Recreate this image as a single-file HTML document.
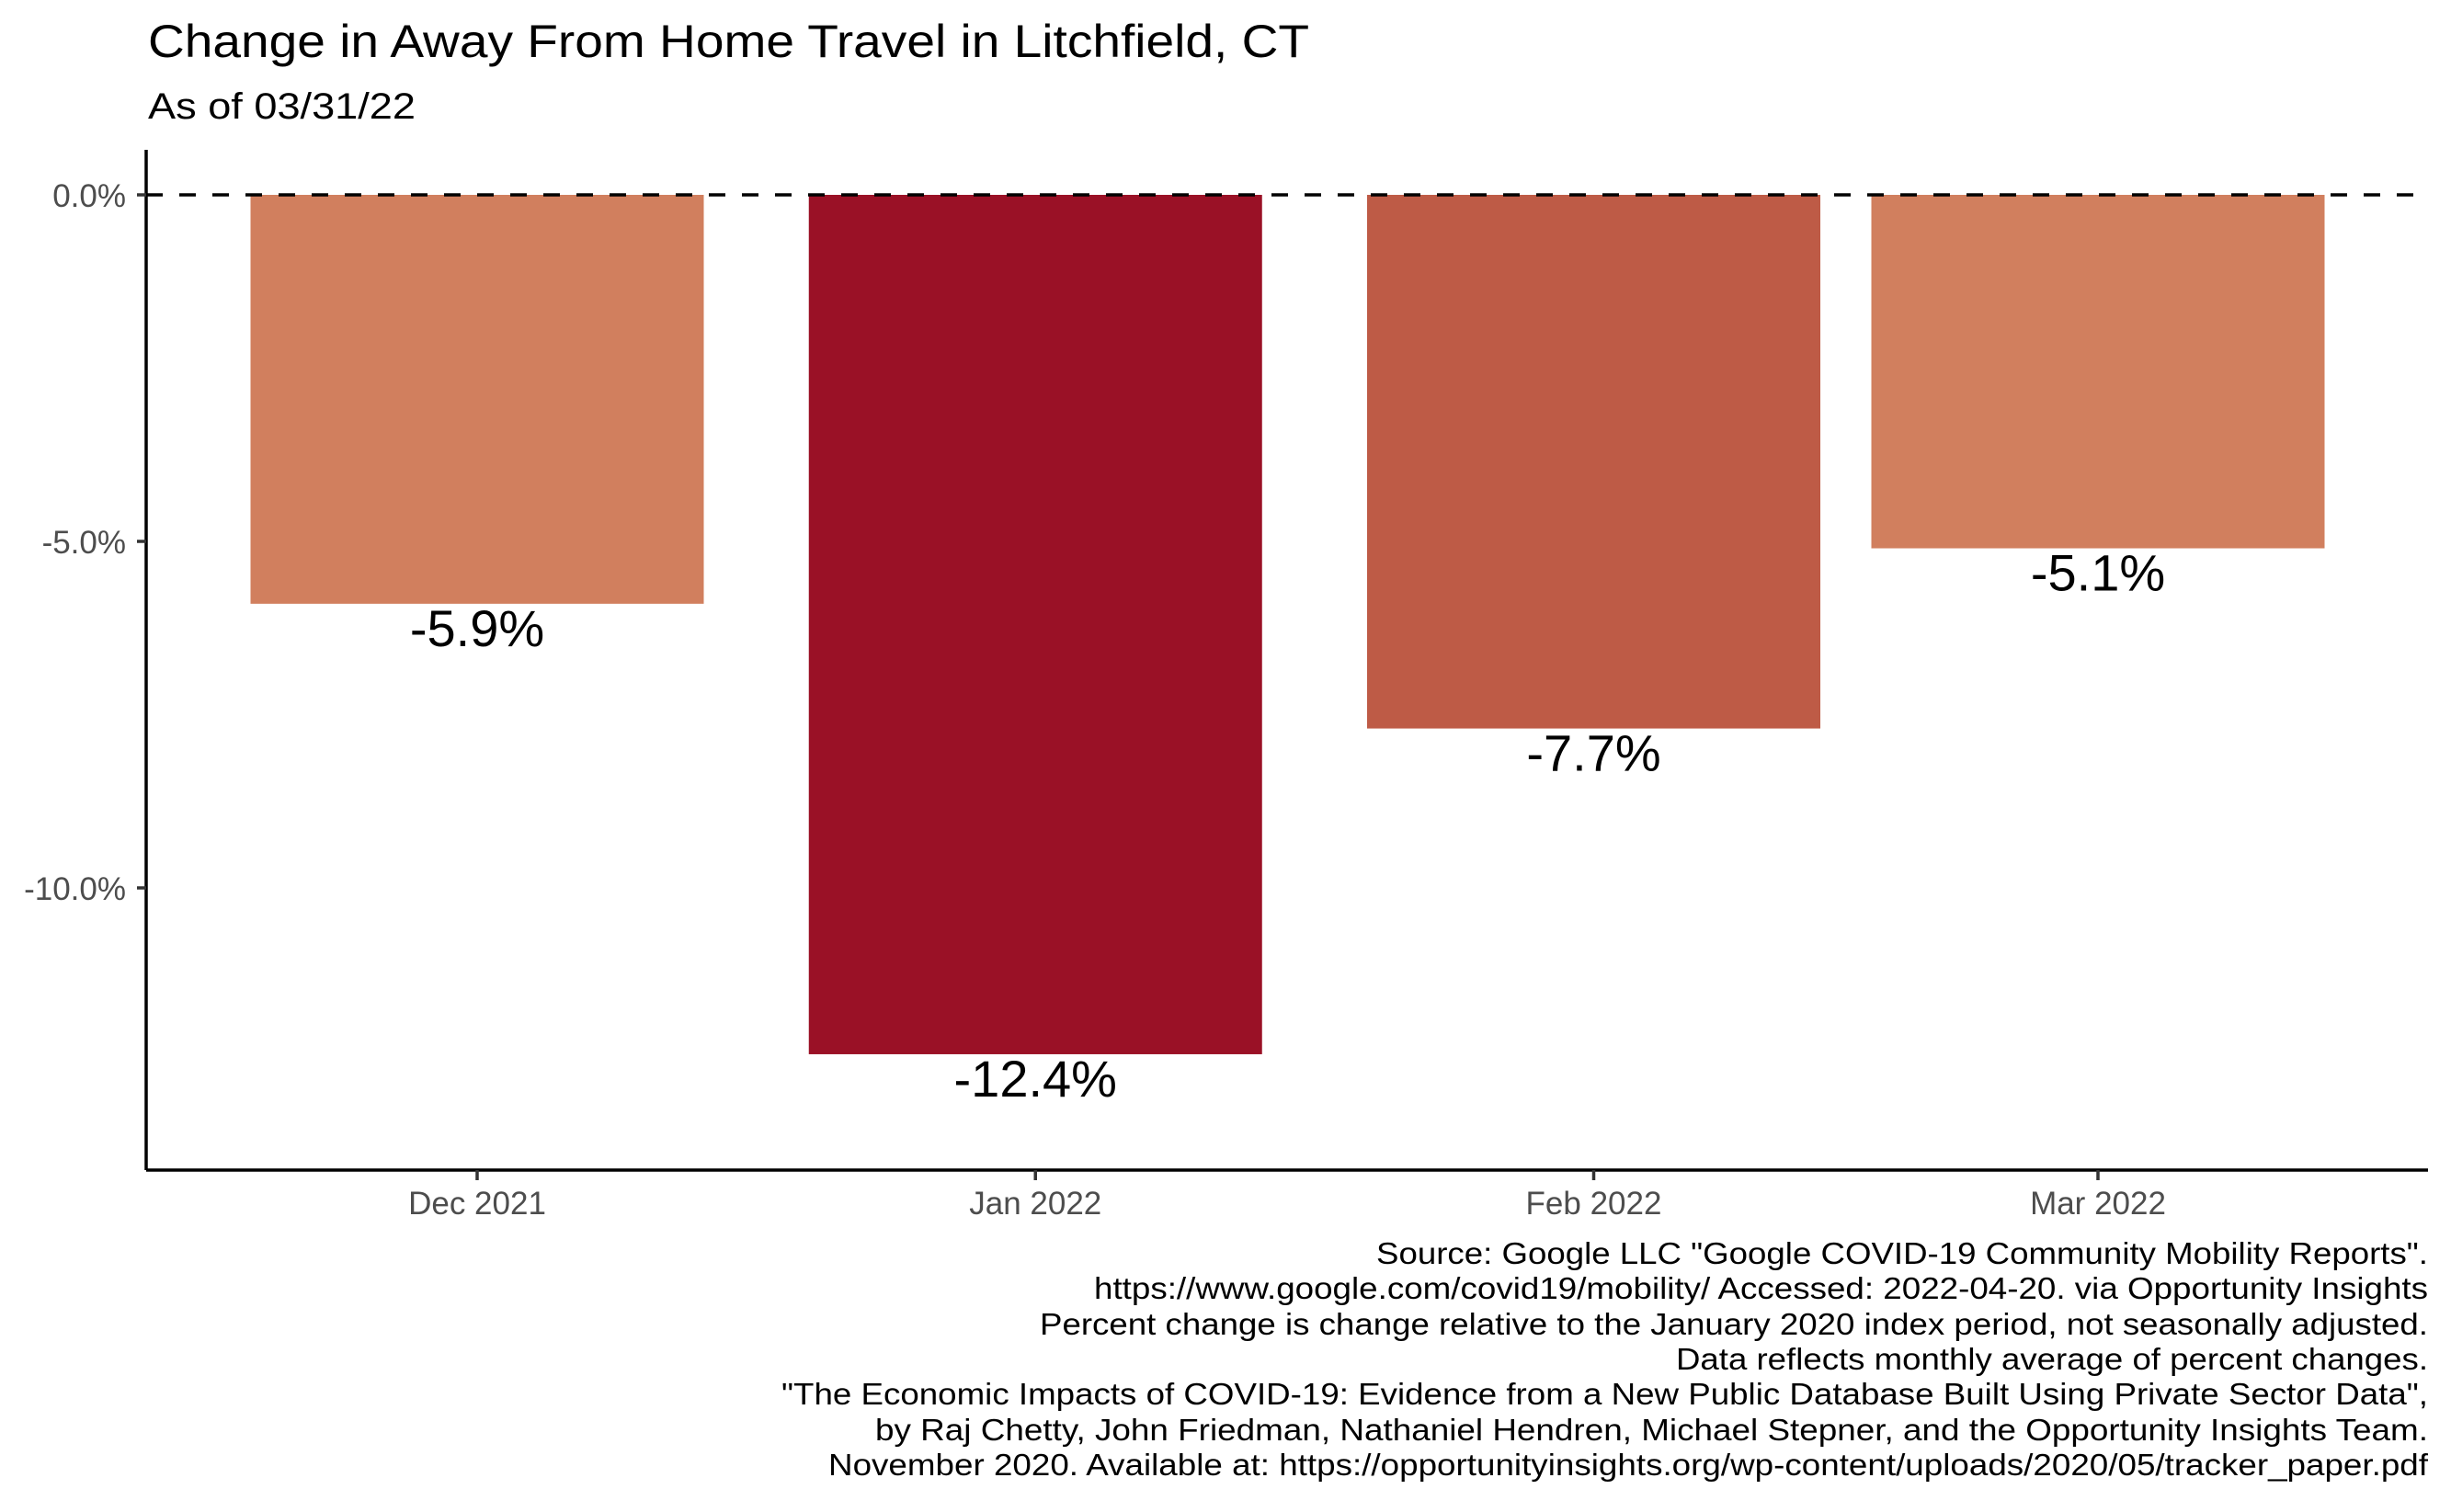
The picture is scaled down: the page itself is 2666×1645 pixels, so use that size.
<!DOCTYPE html>
<html><head><meta charset="utf-8"><style>
body{margin:0;background:#fff}
svg{display:block;font-family:"Liberation Sans",Arial,sans-serif}
</style></head><body>
<svg id="chart" width="2666" height="1645" viewBox="0 0 2666 1645" xmlns="http://www.w3.org/2000/svg">
<rect width="2666" height="1645" fill="#fff"/>
<text x="161" y="62" font-size="50" fill="#000" textLength="1263" lengthAdjust="spacingAndGlyphs">Change in Away From Home Travel in Litchfield, CT</text>
<text x="161" y="129" font-size="40" fill="#000" textLength="291" lengthAdjust="spacingAndGlyphs">As of 03/31/22</text>
<g id="bars"></g>
<g id="yaxis"></g>
<g id="xaxis"></g>
<g font-size="33" fill="#000" text-anchor="end">
<text x="2641" y="1375" textLength="1144" lengthAdjust="spacingAndGlyphs">Source: Google LLC "Google COVID-19 Community Mobility Reports".</text>
<text x="2641" y="1413" textLength="1451" lengthAdjust="spacingAndGlyphs">https://www.google.com/covid19/mobility/ Accessed: 2022-04-20. via Opportunity Insights</text>
<text x="2641" y="1452" textLength="1510" lengthAdjust="spacingAndGlyphs">Percent change is change relative to the January 2020 index period, not seasonally adjusted.</text>
<text x="2641" y="1490" textLength="818" lengthAdjust="spacingAndGlyphs">Data reflects monthly average of percent changes.</text>
<text x="2641" y="1528" textLength="1791" lengthAdjust="spacingAndGlyphs">"The Economic Impacts of COVID-19: Evidence from a New Public Database Built Using Private Sector Data",</text>
<text x="2641" y="1567" textLength="1689" lengthAdjust="spacingAndGlyphs">by Raj Chetty, John Friedman, Nathaniel Hendren, Michael Stepner, and the Opportunity Insights Team.</text>
<text x="2641" y="1605" textLength="1740" lengthAdjust="spacingAndGlyphs">November 2020. Available at: https://opportunityinsights.org/wp-content/uploads/2020/05/tracker_paper.pdf</text>
</g>
</svg>
<script>
const categories = ["Dec 2021","Jan 2022","Feb 2022","Mar 2022"];
const values = [-5.9,-12.4,-7.7,-5.1];
const valueLabels = ["-5.9%","-12.4%","-7.7%","-5.1%"];
const barColors = ["#d17f5e","#9a1126","#be5b46","#d17f5e"];
const categoryDays = [0,31,62,90];
const yTicks = [0,-5,-10];
const yTickLabels = ["0.0%","-5.0%","-10.0%"];

const NS="http://www.w3.org/2000/svg";
const plotL=159, plotR=2641, plotT=163, plotB=1273;
const y=v=>212+(-v)*75.4;
// date axis: Dec 1 -> 519, Mar 1 -> 2282
const xd=d=>519+d*(2282-519)/90;
const barW=493;
function el(t,a,p){const e=document.createElementNS(NS,t);for(const k in a)e.setAttribute(k,a[k]);p.appendChild(e);return e;}
const gb=document.getElementById('bars');
values.forEach((v,i)=>{
  const cx=xd(categoryDays[i]);
  const r=el('rect',{x:cx-barW/2,y:y(0),width:barW,height:y(v)-y(0),fill:barColors[i]},gb);
  
  
  const t=el('text',{x:cx,y:y(v)+46,'font-size':'56','text-anchor':'middle',fill:'#000'},gb);
  t.textContent=valueLabels[i];
  
  
});
const zl=el('line',{x1:plotL,x2:plotR,y1:y(0),y2:y(0),stroke:'#000','stroke-width':3.5,'stroke-dasharray':'18,18'},gb);


const gy=document.getElementById('yaxis');
const ya=el('line',{x1:plotL,x2:plotL,y1:plotT,y2:plotB,stroke:'#000','stroke-width':3.5},gy);


yTicks.forEach((v,i)=>{
  el('line',{x1:plotL-10,x2:plotL,y1:y(v),y2:y(v),stroke:'#333','stroke-width':3.5},gy);
  const t=el('text',{x:plotL-22,y:y(v)+13,'font-size':'35','text-anchor':'end',fill:'#4d4d4d'},gy);
  t.textContent=yTickLabels[i];
  
  
});
const gx=document.getElementById('xaxis');
const xa=el('line',{x1:plotL,x2:plotR,y1:plotB,y2:plotB,stroke:'#000','stroke-width':3.5},gx);


categories.forEach((c,i)=>{
  const cx=xd(categoryDays[i]);
  el('line',{x1:cx,x2:cx,y1:plotB,y2:plotB+11,stroke:'#333','stroke-width':3.5},gx);
  const t=el('text',{x:cx,y:1321,'font-size':'35','text-anchor':'middle',fill:'#4d4d4d'},gx);
  t.textContent=c;
  
  
});
</script>
</body></html>
